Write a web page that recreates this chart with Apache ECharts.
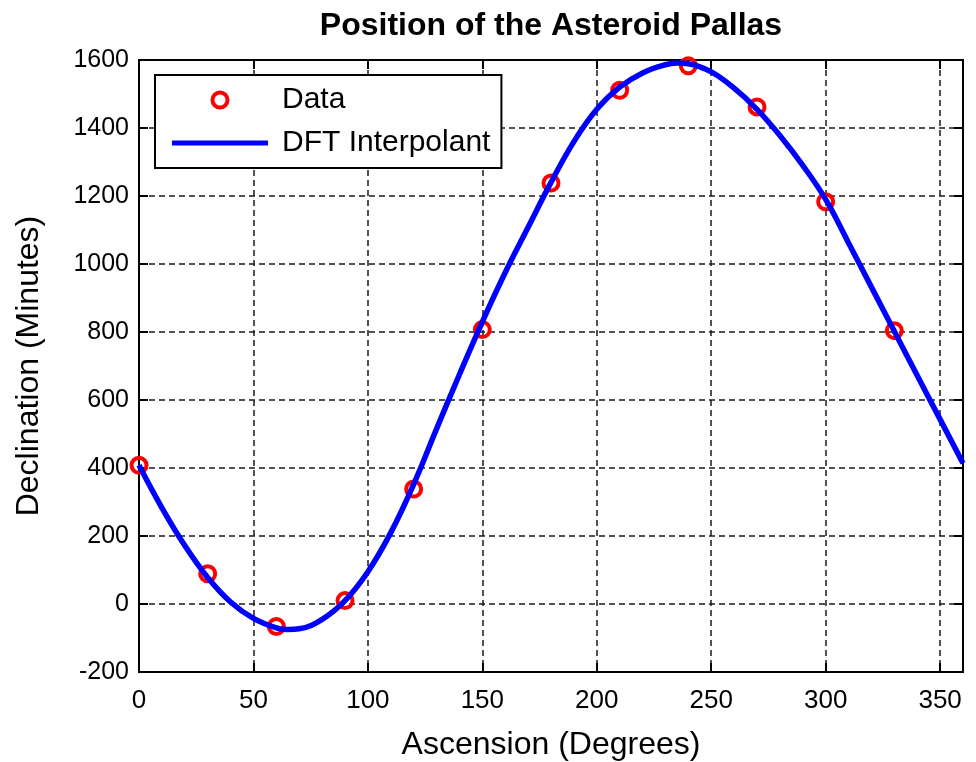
<!DOCTYPE html>
<html>
<head>
<meta charset="utf-8">
<script src="https://cdn.jsdelivr.net/npm/echarts@6/dist/echarts.min.js"></script>
<style>
html,body{margin:0;padding:0;background:#fff;}
#chart{width:976px;height:762px;}
</style>
</head>
<body>
<div id="chart"></div>
<script>
// Observed data (ascension in degrees, declination in minutes)
const dataX = [0, 30, 60, 90, 120, 150, 180, 210, 240, 270, 300, 330];
const dataY = [408, 89, -66, 10, 338, 807, 1238, 1511, 1583, 1462, 1183, 804];

// DFT interpolant curve
const curveX = [0,10,20,30,40,50,60,65,70,80,90,100,110,120,130,140,150,160,170,180,190,200,210,220,230,235,240,250,260,270,280,290,300,310,320,330,340,350,360];
const curveY = [408,283,172,78,6,-42,-70,-75,-73,-45,10,95,210,352,515,675,830,975,1108,1240,1360,1455,1520,1562,1586,1591,1589,1565,1517,1455,1378,1290,1190,1062,932,802,672,543,414];

const xTicks = [0, 50, 100, 150, 200, 250, 300, 350];
const yTicks = [-200, 0, 200, 400, 600, 800, 1000, 1200, 1400, 1600];

const titleText = 'Position of the Asteroid Pallas';
const xName = 'Ascension (Degrees)';
const yName = 'Declination (Minutes)';
const seriesNames = ['Data', 'DFT Interpolant'];

const FONT = 'Liberation Sans';
const chart = echarts.init(document.getElementById('chart'), null, {renderer: 'canvas'});

const gridLine = {show: true, lineStyle: {color: '#1a1a1a', type: [6, 4], width: 1.5}};
const axisLabelX = {color: '#000', fontFamily: FONT, fontSize: 26, margin: 16,
  formatter: v => xTicks.indexOf(v) >= 0 ? String(v) : ''};
const axisLabelY = {color: '#000', fontFamily: FONT, fontSize: 25, margin: 10,
  formatter: v => yTicks.indexOf(v) >= 0 ? String(v) : ''};
const axLine = {show: true, onZero: false, lineStyle: {color: '#000', width: 2}};
const axTick = {show: true, inside: true, length: 9, lineStyle: {color: '#000', width: 2}};

chart.setOption({
  animation: false,
  backgroundColor: '#fff',
  title: {
    text: titleText, left: 546, top: 5, textAlign: 'center',
    textStyle: {fontFamily: FONT, fontWeight: 'bold', fontSize: 32, color: '#000'}
  },
  legend: {
    left: 155, top: 75, orient: 'vertical',
    backgroundColor: '#fff', borderColor: '#000', borderWidth: 2,
    padding: [10, 11, 10, 17], itemWidth: 96, itemHeight: 15, itemGap: 13,
    symbolKeepAspect: true,
    textStyle: {fontFamily: FONT, fontSize: 30, color: '#000', padding: [0, 0, 0, 9]},
    data: [
      {name: seriesNames[0], icon: 'circle',
       itemStyle: {color: 'rgba(255,255,255,0)', borderColor: '#ff0000', borderWidth: 4}},
      {name: seriesNames[1], icon: 'path://M0,0 L96,0 L96,5 L0,5 Z',
       itemStyle: {color: '#0000ff', borderWidth: 0}}
    ]
  },
  grid: {left: 139, top: 60, width: 824, height: 612, containLabel: false,
    outerBoundsMode: 'none',
    show: true, borderColor: '#000', borderWidth: 2, backgroundColor: '#fff'},
  xAxis: [{
    type: 'value', min: 0, max: 360, interval: 50, position: 'bottom',
    name: xName, nameLocation: 'middle', nameGap: 57,
    nameTextStyle: {fontFamily: FONT, fontSize: 32, color: '#000'},
    axisLine: axLine, axisTick: axTick,
    axisLabel: axisLabelX, splitLine: gridLine
  }, {
    type: 'value', min: 0, max: 360, interval: 50, position: 'top',
    axisLine: axLine, axisTick: axTick,
    axisLabel: {show: false}, splitLine: {show: false}
  }],
  yAxis: [{
    type: 'value', min: -200, max: 1600, interval: 200, position: 'left',
    name: yName, nameLocation: 'middle', nameGap: 94, nameRotate: 90,
    nameTextStyle: {fontFamily: FONT, fontSize: 32, color: '#000'},
    axisLine: axLine, axisTick: axTick,
    axisLabel: axisLabelY, splitLine: gridLine
  }, {
    type: 'value', min: -200, max: 1600, interval: 200, position: 'right',
    axisLine: axLine, axisTick: axTick,
    axisLabel: {show: false}, splitLine: {show: false}
  }],
  series: [{
    name: seriesNames[0], type: 'scatter', xAxisIndex: 0, yAxisIndex: 0,
    symbol: 'circle', symbolSize: 15, z: 2,
    itemStyle: {color: 'rgba(255,255,255,0)', borderColor: '#ff0000', borderWidth: 4, opacity: 1},
    data: dataX.map((x, i) => [x, dataY[i]])
  }, {
    name: seriesNames[1], type: 'line', xAxisIndex: 0, yAxisIndex: 0,
    smooth: 0.4, symbol: 'none', showSymbol: false, z: 3,
    lineStyle: {color: '#0000ff', width: 5.5},
    itemStyle: {color: '#0000ff'},
    data: curveX.map((x, i) => [x, curveY[i]])
  }]
});
</script>
</body>
</html>
